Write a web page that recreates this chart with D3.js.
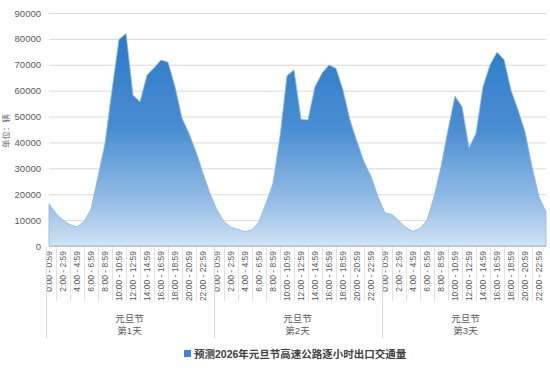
<!DOCTYPE html>
<html>
<head>
<meta charset="utf-8">
<script src="https://cdn.jsdelivr.net/npm/d3@7"></script>
<style>
  body { margin: 0; background: #fff; }
  svg text { font-family: "Liberation Sans", "Noto Sans CJK SC", sans-serif; fill: #595959; }
</style>
</head>
<body>
<div id="chart"></div>
<script>
// hourly exit traffic, one array per day
var day1 = [16300, 12600, 10000, 8200, 7400, 9400, 14200, 26800, 39600, 60200, 79800, 82000,
            58200, 55700, 66000, 68800, 71800, 71000, 61500, 49300, 43500, 36400, 28100, 20300];
var day2 = [13900, 9400, 7200, 6400, 5500, 6200, 9400, 16500, 24200, 42200, 65800, 68000,
            48900, 48700, 61500, 66700, 69900, 68600, 60200, 48600, 40300, 32500, 26800, 19000];
var day3 = [12800, 12200, 9700, 7100, 5600, 6800, 10000, 19000, 30600, 44800, 57800, 53800,
            37900, 43500, 61500, 69900, 74800, 72000, 60200, 52500, 44100, 30600, 19000, 13200];
var hours = ["0:00 - 0:59", "1:00 - 1:59", "2:00 - 2:59", "3:00 - 3:59", "4:00 - 4:59", "5:00 - 5:59",
             "6:00 - 6:59", "7:00 - 7:59", "8:00 - 8:59", "9:00 - 9:59", "10:00 - 10:59", "11:00 - 11:59",
             "12:00 - 12:59", "13:00 - 13:59", "14:00 - 14:59", "15:00 - 15:59", "16:00 - 16:59", "17:00 - 17:59",
             "18:00 - 18:59", "19:00 - 19:59", "20:00 - 20:59", "21:00 - 21:59", "22:00 - 22:59", "23:00 - 23:59"];
var days = ["第1天", "第2天", "第3天"];
var holiday = "元旦节";
var yTicks = [0, 10000, 20000, 30000, 40000, 50000, 60000, 70000, 80000, 90000];
var seriesName = "预测2026年元旦节高速公路逐小时出口交通量";
var yTitle = "单位：辆";

var data = [];
[day1, day2, day3].forEach(function(d, di) {
	d.forEach(function(v, h) {
		data.push({ idx: di * 24 + h, day: di, hour: h, value: v });
	});
});

var W = 550, H = 368;
// plot box (note: "top" is taken by window.top, so prefix these)
var pLeft = 49, pRight = 546, pTop = 13, pBottom = 246;

var svg = d3.select("#chart").append("svg")
	.attr("width", W)
	.attr("height", H);

var x = d3.scaleLinear().domain([0, data.length - 1]).range([pLeft, pRight]);
var y = d3.scaleLinear().domain([0, 90000]).range([pBottom, pTop]);

// gridlines
svg.append("g")
	.attr("transform", "translate(" + pLeft + ",0)")
	.call(d3.axisLeft(y).tickValues(yTicks).tickSize(-(pRight - pLeft)).tickFormat(""))
	.call(function(g) { g.select(".domain").remove(); })
	.selectAll("line")
	.attr("stroke", "#d9d9d9");

// y labels
svg.append("g")
	.attr("transform", "translate(" + (pLeft - 8) + ",0)")
	.call(d3.axisLeft(y).tickValues(yTicks).tickSize(0).tickFormat(d3.format("d")))
	.call(function(g) { g.select(".domain").remove(); })
	.selectAll("text")
	.attr("x", 0)
	.style("font-size", "9.5px")
	.style("fill", "#595959");

svg.append("text")
	.attr("transform", "translate(9,131) rotate(-90)")
	.attr("text-anchor", "middle")
	.style("font-size", "8.5px")
	.style("fill", "#707070")
	.text(yTitle);

// gradient for the area
var defs = svg.append("defs");
var grad = defs.append("linearGradient")
	.attr("id", "areaGrad")
	.attr("gradientUnits", "userSpaceOnUse")
	.attr("x1", 0).attr("x2", 0)
	.attr("y1", y(82000)).attr("y2", pBottom);
grad.append("stop").attr("offset", "0%").attr("stop-color", "#2b79c6");
grad.append("stop").attr("offset", "45%").attr("stop-color", "#4a8ed2");
grad.append("stop").attr("offset", "80%").attr("stop-color", "#98bfe7");
grad.append("stop").attr("offset", "100%").attr("stop-color", "#d2e2f4");

var area = d3.area()
	.x(function(d) { return x(d.idx); })
	.y0(pBottom)
	.y1(function(d) { return y(d.value); });

svg.append("path")
	.datum(data)
	.attr("d", area)
	.attr("fill", "url(#areaGrad)")
	.attr("stroke", "#8db6e2")
	.attr("stroke-width", 0.8);

// x axis line
svg.append("line")
	.attr("x1", pLeft).attr("x2", pRight)
	.attr("y1", pBottom + 0.5).attr("y2", pBottom + 0.5)
	.attr("stroke", "#bfbfbf");

// hour labels, every second one
var labelIdx = data.filter(function(d) { return d.hour % 2 == 0; });
svg.append("g").selectAll("text")
	.data(labelIdx)
	.enter().append("text")
	.attr("transform", function(d) { return "translate(" + (x(d.idx) + 3) + "," + (pBottom + 5) + ") rotate(-90)"; })
	.attr("text-anchor", "end")
	.style("font-size", "8.5px")
	.text(function(d) { return hours[d.hour]; });

// small separators between hour labels
var sepIdx = data.filter(function(d) { return d.hour % 2 == 1 && d.hour != 23; });
svg.append("g").selectAll("line")
	.data(sepIdx)
	.enter().append("line")
	.attr("x1", function(d) { return Math.round(x(d.idx)) + 0.5; })
	.attr("x2", function(d) { return Math.round(x(d.idx)) + 0.5; })
	.attr("y1", pBottom + 1).attr("y2", 301)
	.attr("stroke", "#e3e3e3");

// day separators
svg.append("g").selectAll("line")
	.data([0, 24, 48])
	.enter().append("line")
	.attr("x1", function(d) { return Math.round(x(d - 0.5)) + 0.5; })
	.attr("x2", function(d) { return Math.round(x(d - 0.5)) + 0.5; })
	.attr("y1", pBottom + 1).attr("y2", 338)
	.attr("stroke", "#d9d9d9");

// day group labels
var dayG = svg.append("g").selectAll("g")
	.data(days)
	.enter().append("g")
	.attr("transform", function(d, i) { return "translate(" + ((x(i * 24 - 0.5) + x(i * 24 + 23.5)) / 2) + ",0)"; });
dayG.append("text")
	.attr("y", 322)
	.attr("text-anchor", "middle")
	.style("font-size", "9.5px")
	.text(holiday);
dayG.append("text")
	.attr("y", 334)
	.attr("text-anchor", "middle")
	.style("font-size", "9.5px")
	.text(function(d) { return d; });

// legend
var legend = svg.append("g").attr("transform", "translate(184,350)");
legend.append("rect")
	.attr("width", 7).attr("height", 7)
	.attr("fill", "#3f86cc");
legend.append("text")
	.attr("x", 10).attr("y", 7.5)
	.style("font-size", "10.5px")
	.style("font-weight", "bold")
	.style("fill", "#404040")
	.text(seriesName);
</script>
</body>
</html>
